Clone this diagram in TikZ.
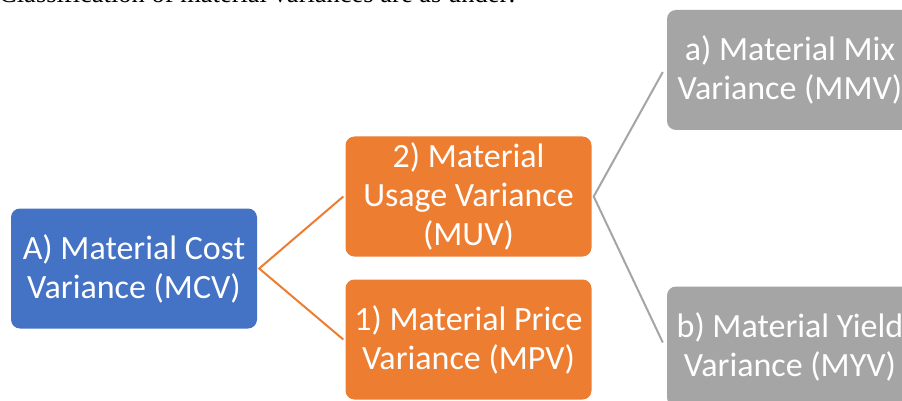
\documentclass[tikz,border=0pt]{standalone}
\usepackage{fontspec}
\setmainfont{Liberation Serif}
\newfontfamily\boxfont{Carlito}
\definecolor{mcvblue}{HTML}{4472C4}
\definecolor{varorange}{HTML}{ED7D31}
\definecolor{vargray}{HTML}{A5A5A5}
\tikzset{
  varbox/.style={rounded corners=9pt, minimum width=246pt, minimum height=120pt,
    inner sep=0pt, align=center, text=white,
    font=\boxfont\fontsize{34}{39}\selectfont},
  orangelink/.style={draw=varorange, line width=2pt},
  graylink/.style={draw=vargray, line width=2pt},
}
\begin{document}
\begin{tikzpicture}[x=1pt, y=-1pt]
  \clip (0,0) rectangle (902,401);
  \fill[white] (0,0) rectangle (902,401);

  % heading line, mostly above the page edge
  \node[anchor=base west, inner sep=0pt, font=\fontsize{26.5}{30}\selectfont]
    (title) at (-1,3) {Classification of material variances are as under:};

  % boxes
  \node[varbox, fill=mcvblue]   (mcv) at (134,268.5) {A) Material Cost\\Variance (MCV)};
  \node[varbox, fill=varorange] (muv) at (468.5,196.5) {2) Material\\Usage Variance\\(MUV)};
  \node[varbox, fill=varorange] (mpv) at (468.5,339.5) {1) Material Price\\Variance (MPV)};
  \node[varbox, fill=vargray]   (mmv) at (790,70) {a) Material Mix\\Variance (MMV)};
  \node[varbox, fill=vargray]   (myv) at (790,346.5) {b) Material Yield\\Variance (MYV)};

  % connectors
  \draw[orangelink] ([xshift=-2pt]muv.west) -- ([xshift=2pt]mcv.east) -- ([xshift=-2pt]mpv.west);
  \draw[graylink] ([xshift=-4pt,yshift=-2pt]mmv.west) -- ([xshift=2pt]muv.east) -- ([xshift=-4pt,yshift=4pt]myv.west);
\end{tikzpicture}
\end{document}
